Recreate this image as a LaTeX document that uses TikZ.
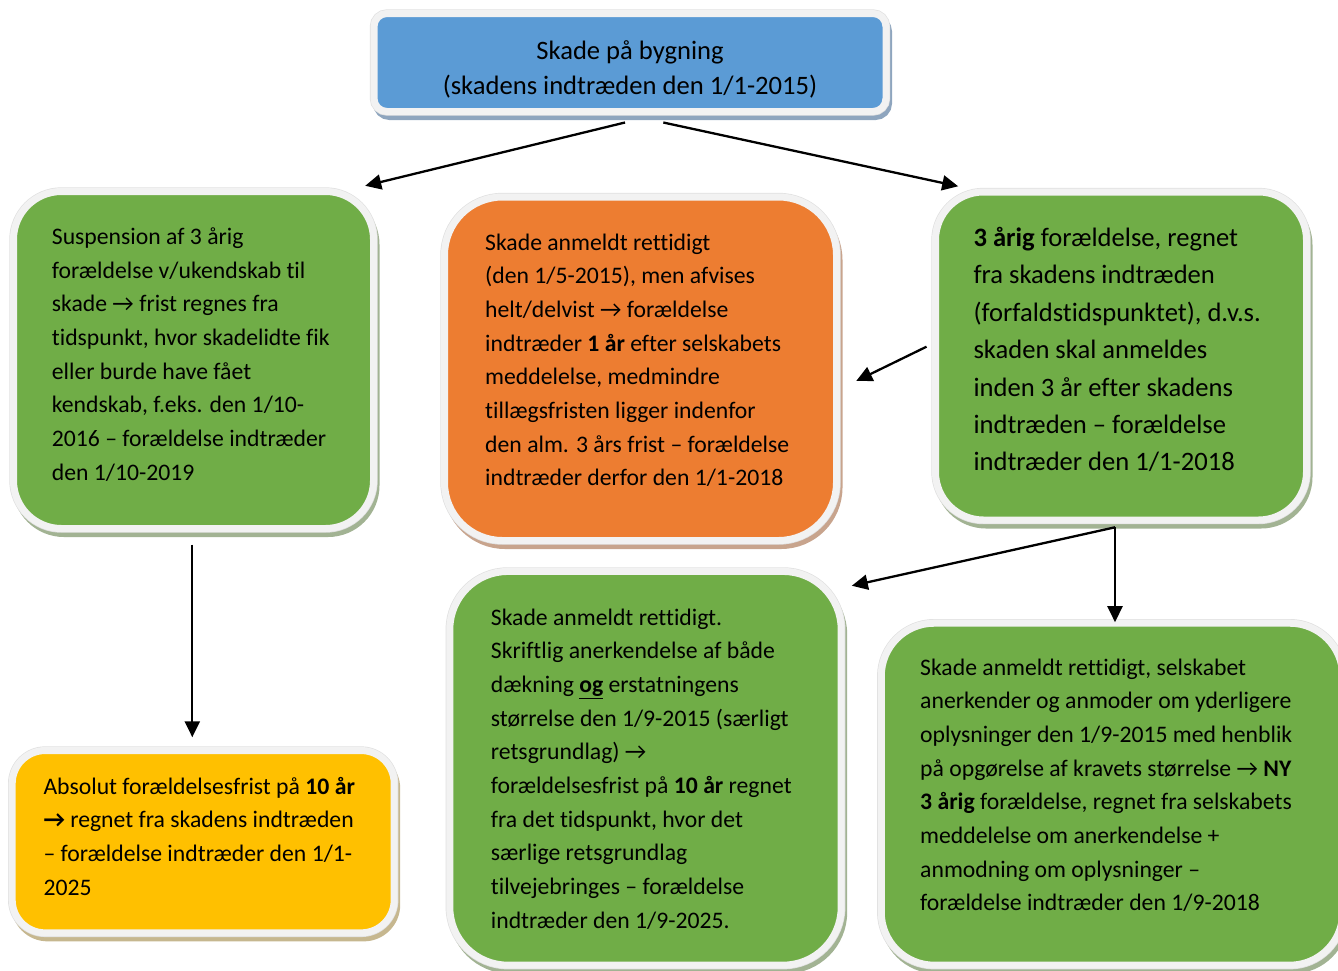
\documentclass[tikz,border=0pt]{standalone}
\usepackage{fontspec}
\setmainfont{Carlito}[Ligatures={NoCommon,NoRare,NoContextual},Contextuals=NoAlternate]
\usetikzlibrary{arrows.meta,calc}
\definecolor{cblue}{HTML}{5B9BD5}
\definecolor{cgreen}{HTML}{70AD47}
\definecolor{corange}{HTML}{ED7D31}
\definecolor{cyellow}{HTML}{FFC000}
\definecolor{sblue}{HTML}{8EA5BE}
\definecolor{sgreen}{HTML}{A2B393}
\definecolor{sorange}{HTML}{C8A48D}
\definecolor{syellow}{HTML}{C6B78F}
\definecolor{ringcol}{HTML}{F2F2F2}
\definecolor{ringedge}{HTML}{E0E0E0}
\tikzset{
  shbox/.style 2 args={rectangle, inner sep=0pt, fill=#1, draw=ringcol, line width=7pt,
    preaction={fill=#2, draw=#2, line width=7pt, transform canvas={xshift=2.5pt,yshift=-5pt}},
    preaction={draw=ringedge, line width=8.4pt}},
  txt/.style={anchor=north west, align=left, inner sep=0pt, font=\fontsize{23.7}{33.65}\selectfont},
  txtbig/.style={anchor=north west, align=left, inner sep=0pt, font=\fontsize{26.6}{37.45}\selectfont},
  arr/.style={line width=2.3pt, -{Triangle[length=16pt,width=15pt]}}
}
\begin{document}
\begin{tikzpicture}[x=1pt,y=-1pt]
\useasboundingbox (0,0) rectangle (1338,970);
\clip (0,0) rectangle (1338,970);
% boxes
\node[shbox={cblue}{sblue}, minimum width=512pt, minimum height=98pt, rounded corners=13pt] (top) at (630,62.5) {};
\node[shbox={cgreen}{sgreen}, minimum width=360pt, minimum height=337pt, rounded corners=48pt] (left) at (193.5,360) {};
\node[shbox={corange}{sorange}, minimum width=392pt, minimum height=343.5pt, rounded corners=58pt] (orange) at (640.5,368.75) {};
\node[shbox={cgreen}{sgreen}, minimum width=371pt, minimum height=328pt, rounded corners=48pt] (rt) at (1121,356) {};
\node[shbox={cyellow}{syellow}, minimum width=382pt, minimum height=182.3pt, rounded corners=33pt] (yellow) at (203.2,841.7) {};
\node[shbox={cgreen}{sgreen}, minimum width=391.4pt, minimum height=393.7pt, rounded corners=58pt] (bm) at (645.5,768.3) {};
\node[shbox={cgreen}{sgreen}, minimum width=461.5pt, minimum height=342pt, rounded corners=53pt] (br) at (1112,794.2) {};
% texts
\node[anchor=north, align=center, inner sep=0pt, font=\fontsize{26.6}{35}\selectfont] (toptxt) at (630,34.5)
  {\strut Skade på bygning\\(skadens indtræden den 1/1-2015)};
\node[txt] (lefttxt) at (51.7,220.75) {\strut Suspension af 3 årig\\
forældelse v/ukendskab til\\
skade → frist regnes fra\\
tidspunkt, hvor skadelidte fik\\
eller burde have fået\\
kendskab, f.eks. den 1/10-\\
2016 – forældelse indtræder\\
den 1/10-2019};
\node[txt] (orangetxt) at (485,226.45) {\strut Skade anmeldt rettidigt\\
(den 1/5-2015), men afvises\\
helt/delvist → forældelse\\
indtræder \textbf{1 år} efter selskabets\\
meddelelse, medmindre\\
tillægsfristen ligger indenfor\\
den alm. 3 års frist – forældelse\\
indtræder derfor den 1/1-2018};
\node[txtbig] (rttxt) at (973.3,219.8) {\strut\textbf{3 årig} forældelse, regnet\\
fra skadens indtræden\\
(forfaldstidspunktet), d.v.s.\\
skaden skal anmeldes\\
inden 3 år efter skadens\\
indtræden – forældelse\\
indtræder den 1/1-2018};
\node[txt] (yellowtxt) at (43.3,770.45) {\strut Absolut forældelsesfrist på \textbf{10 år}\\
\textbf{→} regnet fra skadens indtræden\\
– forældelse indtræder den 1/1-\\
2025};
\node[txt] (bmtxt) at (490.7,601.45) {\strut Skade anmeldt rettidigt.\\
Skriftlig anerkendelse af både\\
dækning \underline{\textbf{og}} erstatningens\\
størrelse den 1/9-2015 (særligt\\
retsgrundlag) →\\
forældelsesfrist på \textbf{10 år} regnet\\
fra det tidspunkt, hvor det\\
særlige retsgrundlag\\
tilvejebringes – forældelse\\
indtræder den 1/9-2025.};
\node[txt] (brtxt) at (920,651.45) {\strut Skade anmeldt rettidigt, selskabet\\
anerkender og anmoder om yderligere\\
oplysninger den 1/9-2015 med henblik\\
på opgørelse af kravets størrelse → \textbf{NY}\\
\textbf{3 årig} forældelse, regnet fra selskabets\\
meddelelse om anerkendelse +\\
anmodning om oplysninger –\\
forældelse indtræder den 1/9-2018};
% connectors
\draw[arr] ($(top.south)+(-5,7.5)$) -- ($(left.north east)+(-11.8,-2.2)$);
\draw[arr] ($(top.south)+(33.3,7.5)$) -- ($(rt.north west)+(26.2,-2.2)$);
\draw[arr] ($(rt.west)+(-5.5,-9.3)$) -- ($(orange.east)+(16.2,12.25)$);
\coordinate (rtout) at ($(rt.south)+(-6,3.8)$);
\draw[arr] (rtout) -- ($(bm.north east)+(7.1,17.8)$);
\draw[arr] (rtout) -- ($(br.north)+(3,2.5)$);
\draw[arr] ($(left.south)+(-1.2,12.5)$) -- ($(yellow.north)+(-10.9,-9.8)$);
\end{tikzpicture}
\end{document}
